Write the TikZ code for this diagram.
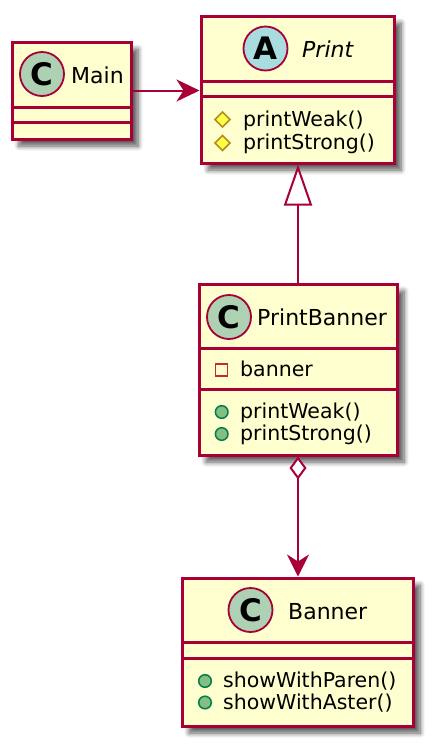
\documentclass[tikz,border=0pt]{standalone}
\usepackage{fontspec}
\setmainfont{DejaVu Sans}
\usetikzlibrary{arrows.meta,shadows.blur}
\definecolor{umlborder}{HTML}{A80036}
\definecolor{umlfill}{HTML}{FEFECE}
\definecolor{circC}{HTML}{ADD1B2}
\definecolor{circA}{HTML}{A9DCDF}
\definecolor{protFill}{HTML}{FFFF44}
\definecolor{protLine}{HTML}{B38D22}
\definecolor{privLine}{HTML}{C82930}
\definecolor{pubFill}{HTML}{84BE84}
\definecolor{pubLine}{HTML}{038048}
\tikzset{
  classbox/.style={draw=umlborder, line width=3pt, fill=umlfill, inner sep=0pt,
    blur shadow={shadow xshift=7pt, shadow yshift=-7pt, shadow blur radius=5pt, shadow blur steps=8, shadow opacity=65}},
  divider/.style={draw=umlborder, line width=3pt},
  spot/.style={circle, minimum size=44pt, inner sep=0pt, draw=umlborder, line width=1.8pt,
    font=\fontsize{31}{31}\selectfont\bfseries},
  headtext/.style={inner sep=0pt, anchor=base west, font=\fontsize{22}{26}\selectfont},
  membertext/.style={inner sep=0pt, anchor=base west, font=\fontsize{20.5}{24}\selectfont},
  conn/.style={draw=umlborder, line width=2pt},
  protIcon/.pic={\draw[fill=protFill, draw=protLine, line width=1.5pt] (0,-7.5)--(7.5,0)--(0,7.5)--(-7.5,0)--cycle;},
  privIcon/.pic={\draw[draw=privLine, line width=1.6pt] (-6,-6) rectangle (6,6);},
  pubIcon/.pic={\draw[fill=pubFill, draw=pubLine, line width=1.5pt] (0,0) circle (6.3);}
}
\begin{document}
\begin{tikzpicture}[x=1pt,y=-1pt]
\useasboundingbox (0,0) rectangle (432,745);
% Main
\node[classbox, minimum width=119pt, minimum height=97pt] (main) at (71.5,90.5) {};
\draw[divider] (12,107) -- (131,107);
\draw[divider] (12,122.5) -- (131,122.5);
\node[spot, fill=circC] (mainC) at (42,74) {C};
\node[headtext] (mainT) at (71,83) {Main};
% Print
\node[classbox, minimum width=193pt, minimum height=147pt] (print) at (297.5,89.5) {};
\draw[divider] (201,81.5) -- (394,81.5);
\draw[divider] (201,96.5) -- (394,96.5);
\node[spot, fill=circA] (printA) at (265.5,48.5) {A};
\node[headtext, font=\fontsize{22}{26}\selectfont\itshape] (printT) at (302,57) {Print};
\pic at (222.5,119.5) {protIcon};
\node[membertext] (pm1) at (243,126) {printWeak()};
\pic at (222.5,143) {protIcon};
\node[membertext] (pm2) at (243,149.5) {printStrong()};
% PrintBanner
\node[classbox, minimum width=198pt, minimum height=171pt] (pb) at (298,369.5) {};
\draw[divider] (199,348) -- (397,348);
\draw[divider] (199,389) -- (397,389);
\node[spot, fill=circC] (pbC) at (229,317) {C};
\node[headtext] (pbT) at (257,325) {PrintBanner};
\pic at (221.5,370) {privIcon};
\node[membertext] (pba) at (240,376.5) {banner};
\pic at (221.7,412) {pubIcon};
\node[membertext] (pbm1) at (240,418.5) {printWeak()};
\pic at (221.7,434) {pubIcon};
\node[membertext] (pbm2) at (240,440.5) {printStrong()};
% Banner
\node[classbox, minimum width=231pt, minimum height=148pt] (banner) at (297.5,652) {};
\draw[divider] (182,642) -- (413,642);
\draw[divider] (182,658) -- (413,658);
\node[spot, fill=circC] (bC) at (250.5,610) {C};
\node[headtext] (bT) at (288,619) {Banner};
\pic at (205,681) {pubIcon};
\node[membertext] (bm1) at (223,687.5) {showWithParen()};
\pic at (205,702.5) {pubIcon};
\node[membertext] (bm2) at (223,709) {showWithAster()};
% connectors
\draw[conn, -{Stealth[length=23pt,width=22pt,inset=7pt]}] (main.east) -- (main.east -| print.west);
\draw[conn, -{Triangle[open,length=41pt,width=28pt,fill=white]}] (pb.north) -- (pb.north |- print.south);
\draw[conn, {Diamond[open,length=23pt,width=17pt,fill=white]}-{Stealth[length=22pt,width=22pt,inset=7pt]}] (pb.south) -- (pb.south |- banner.north);
\end{tikzpicture}
\end{document}
